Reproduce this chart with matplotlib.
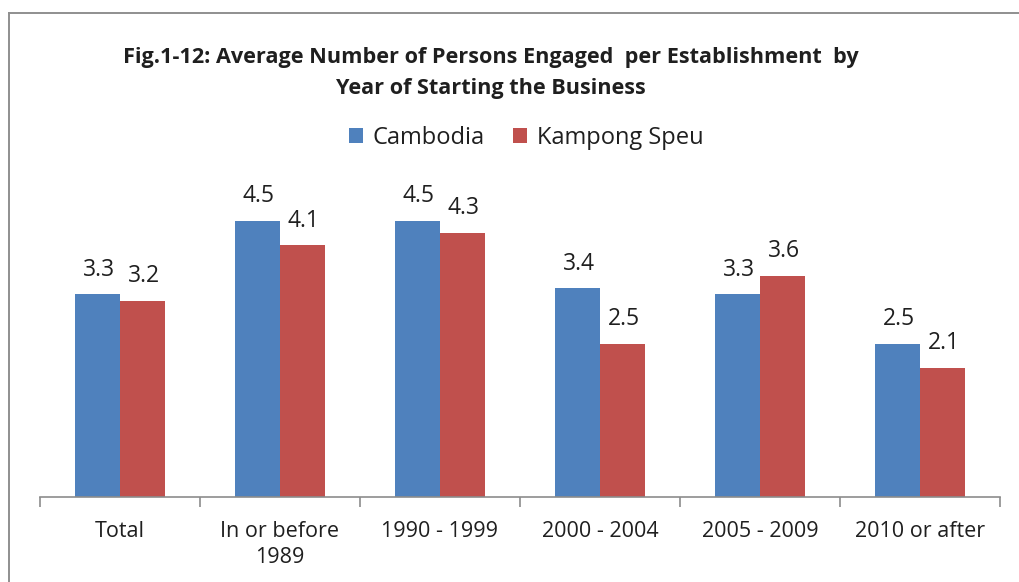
import matplotlib
matplotlib.use("Agg")
import matplotlib.pyplot as plt
from matplotlib.lines import Line2D
import numpy as np

categories = ["Total", "In or before\n1989", "1990 - 1999", "2000 - 2004", "2005 - 2009", "2010 or after"]
cambodia = [3.3, 4.5, 4.5, 3.4, 3.3, 2.5]
kampong_speu = [3.2, 4.1, 4.3, 2.5, 3.6, 2.1]
series_names = ["Cambodia", "Kampong Speu"]
title_lines = ["Fig.1-12: Average Number of Persons Engaged  per Establishment  by",
               "Year of Starting the Business"]

BLUE = "#4F81BD"
RED = "#C0504D"
TXT = "#1f1f1f"
FONT = "Open Sans"

W, H = 1020, 582
fig = plt.figure(figsize=(W / 100, H / 100), dpi=100)
plt.rcParams['font.family'] = [FONT, 'DejaVu Sans']

def fx(px):
    return px / W

def fy(py):
    return 1 - py / H

ax = fig.add_axes([fx(40), fy(497), fx(1000) - fx(40), fy(190) - fy(497)])

x = np.arange(len(categories))
bw = 0.28
b1 = ax.bar(x - bw / 2, cambodia, bw, color=BLUE, label=series_names[0], zorder=2)
b2 = ax.bar(x + bw / 2, kampong_speu, bw, color=RED, label=series_names[1], zorder=2)

for bars, vals in ((b1, cambodia), (b2, kampong_speu)):
    for r, v in zip(bars, vals):
        ax.annotate(f"{v:.1f}", (r.get_x() + r.get_width() / 2, v),
                    xytext=(1, 13.4), textcoords="offset points",
                    ha="center", va="baseline", fontsize=16.5, color=TXT)

ax.set_xlim(-0.5, len(categories) - 0.5)
ax.set_ylim(0, 5)
ax.set_yticks([])
for s in ("top", "right", "left"):
    ax.spines[s].set_visible(False)
ax.spines["bottom"].set_color("#8c8c8c")
ax.spines["bottom"].set_linewidth(1.2)

ax.set_xticks(x)
ax.set_xticklabels(categories, fontsize=15.5, color=TXT, linespacing=1.35)
ax.tick_params(axis="x", which="major", length=0, pad=17)
ax.set_xticks(np.arange(-0.5, len(categories), 1.0), minor=True)
ax.tick_params(axis="x", which="minor", length=7, width=1.2, color="#8c8c8c", direction="out")

fig.text(fx(491), fy(63), title_lines[0], ha="center", va="baseline",
         fontsize=15.6, fontweight="bold", color=TXT)
fig.text(fx(491), fy(94), title_lines[1], ha="center", va="baseline",
         fontsize=15.6, fontweight="bold", color=TXT)

fig.legend(handles=[b1, b2], labels=series_names, loc="center",
           bbox_to_anchor=(fx(526), fy(138)), ncol=2, frameon=False,
           fontsize=17, handlelength=0.6, handleheight=0.6,
           handletextpad=0.4, columnspacing=1.2, labelcolor=TXT)

fig.add_artist(Line2D([fx(9), fx(9)], [0, fy(13)], color="#8f8f8f", lw=1.4))
fig.add_artist(Line2D([fx(9), 1], [fy(13), fy(13)], color="#8f8f8f", lw=1.4))

fig.savefig("out.png", dpi=100)
